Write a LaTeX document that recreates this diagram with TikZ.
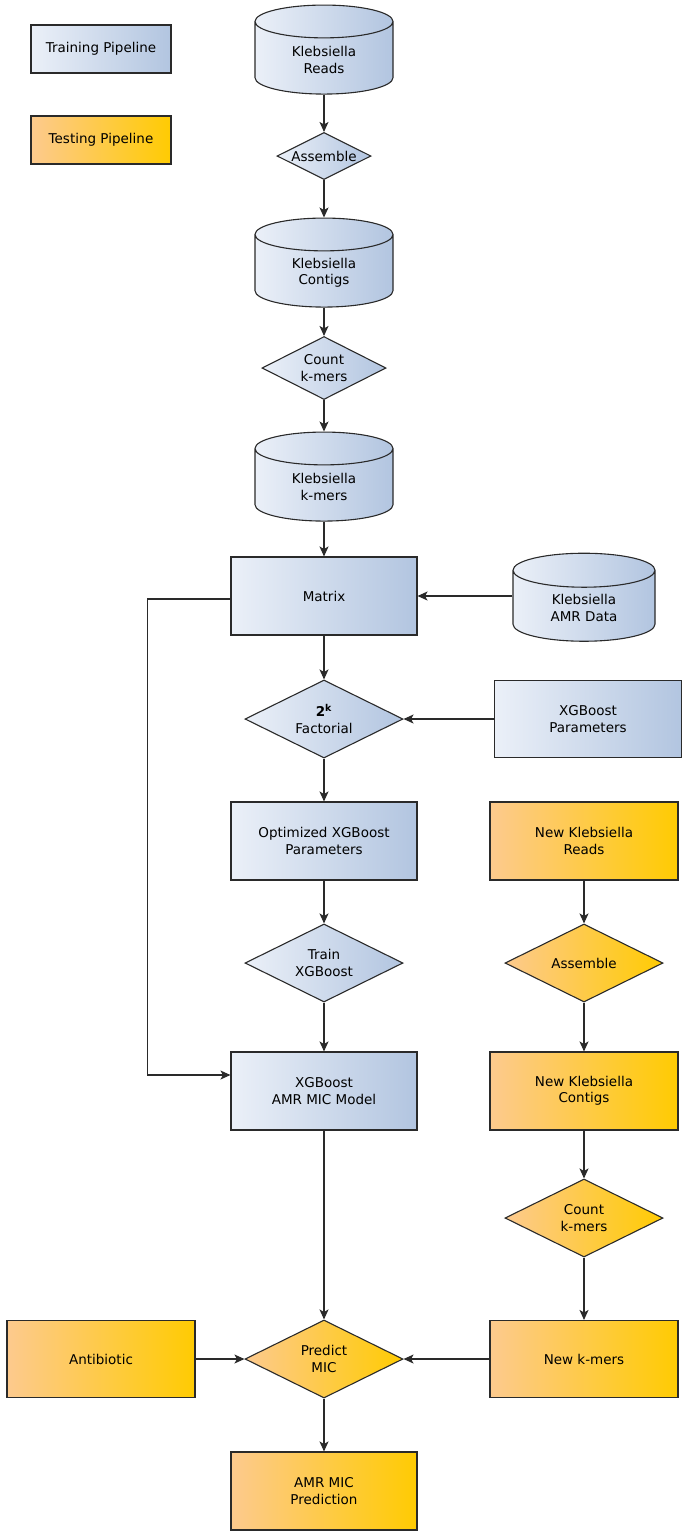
\documentclass[tikz,border=0pt]{standalone}
\usepackage{fontspec}
\setmainfont{DejaVu Sans}
\usepackage{tikz}
\usetikzlibrary{shapes.geometric, arrows.meta, calc}

\definecolor{trainL}{HTML}{EBF0F8}
\definecolor{trainR}{HTML}{B2C5E0}
\definecolor{testL}{HTML}{FDCA8E}
\definecolor{testR}{HTML}{FFCB02}
\definecolor{edgeC}{HTML}{2A2A2A}

\tikzset{
    train/.style={left color=trainL, right color=trainR},
    test/.style={left color=testL, right color=testR},
    box/.style={rectangle, draw=edgeC, line width=1.1pt, minimum width=186pt,
        minimum height=78pt, align=center, font=\fontsize{13.5}{16.5}\selectfont},
    db/.style={cylinder, shape border rotate=90, aspect=0.48, draw=edgeC, line width=1.1pt,
        minimum width=138pt, minimum height=89pt, align=center, inner sep=2pt,
        font=\fontsize{13.5}{16.5}\selectfont, yshift=-11pt},
    choice/.style={diamond, aspect=2, draw=edgeC, line width=1.1pt, inner sep=0pt,
        minimum width=158pt, minimum height=78pt, align=center,
        font=\fontsize{13.5}{16.5}\selectfont},
    flow/.style={-{Stealth[length=10pt,width=9pt,inset=2.5pt]}, line width=1.1pt, draw=edgeC}
}

\begin{document}
\begin{tikzpicture}[x=1pt, y=-1pt]
    \useasboundingbox (0,0) rectangle (684,1532);

    % legend
    \node[box, train, minimum width=140pt, minimum height=48pt] (legtrain) at (101,49) {Training Pipeline};
    \node[box, test, minimum width=140pt, minimum height=48pt] (legtest) at (101,140) {Testing Pipeline};

    % training column
    \node[db, train] (reads) at (324,49) {Klebsiella\\Reads};
    \node[choice, train, minimum width=94pt, minimum height=47pt] (asm) at (324,156) {Assemble};
    \node[db, train] (contigs) at (324,262) {Klebsiella\\Contigs};
    \node[choice, train, minimum width=124pt, minimum height=63pt] (count) at (324,368) {Count\\k-mers};
    \node[db, train] (kmers) at (324,476) {Klebsiella\\k-mers};
    \node[box, train] (matrix) at (324,596) {Matrix};
    \node[db, train, minimum width=142pt, minimum height=88pt] (amrdata) at (584,597) {Klebsiella\\AMR Data};
    \node[choice, train] (fact) at (324,719) {\textbf{2}\textsuperscript{\textbf{k}}\\Factorial};
    \node[box, train, minimum width=187pt, minimum height=77pt] (params) at (588,719) {XGBoost\\Parameters};
    \node[box, train] (optim) at (324,841) {Optimized XGBoost\\Parameters};
    \node[choice, train] (trainx) at (324,963) {Train\\XGBoost};
    \node[box, train] (model) at (324,1091) {XGBoost\\AMR MIC Model};

    % testing column
    \node[box, test, minimum width=188pt] (newreads) at (584,841) {New Klebsiella\\Reads};
    \node[choice, test] (newasm) at (584,963) {Assemble};
    \node[box, test, minimum width=188pt] (newcontigs) at (584,1091) {New Klebsiella\\Contigs};
    \node[choice, test] (newcount) at (584,1218) {Count\\k-mers};
    \node[box, test, minimum width=188pt, minimum height=77pt] (newkmers) at (584,1359) {New k-mers};
    \node[box, test, minimum width=188pt, minimum height=77pt] (antib) at (101,1359) {Antibiotic};
    \node[choice, test] (predict) at (324,1359) {Predict\\MIC};
    \node[box, test] (result) at (324,1491) {AMR MIC\\Prediction};

    % connectors
    \draw[flow] (reads) -- (asm);
    \draw[flow] (asm) -- (contigs);
    \draw[flow] (contigs) -- (count);
    \draw[flow] (count) -- (kmers);
    \draw[flow] (kmers) -- (matrix);
    \draw[flow] (amrdata.west |- matrix.east) -- (matrix.east);
    \draw[flow] (matrix) -- (fact);
    \draw[flow] (params) -- (fact);
    \draw[flow] (fact) -- (optim);
    \draw[flow] (optim) -- (trainx);
    \draw[flow] (trainx) -- (model);
    \draw[flow] ([yshift=-3pt]matrix.west) -- ++(-83,0) |- ([yshift=16pt]model.west);
    \draw[flow] (model) -- (predict);
    \draw[flow] (newreads) -- (newasm);
    \draw[flow] (newasm) -- (newcontigs);
    \draw[flow] (newcontigs) -- (newcount);
    \draw[flow] (newcount) -- (newkmers);
    \draw[flow] (newkmers) -- (predict);
    \draw[flow] (antib) -- (predict);
    \draw[flow] (predict) -- (result);
\end{tikzpicture}
\end{document}
